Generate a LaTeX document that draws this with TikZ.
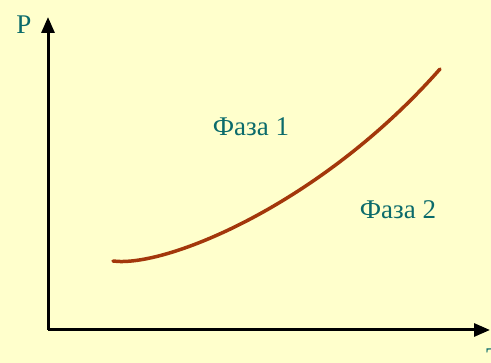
\documentclass[tikz,border=0pt]{standalone}
\usepackage{fontspec}
\setmainfont{Liberation Serif}
\usetikzlibrary{arrows.meta}
\definecolor{bgyellow}{HTML}{FFFFCC}
\definecolor{tealtext}{HTML}{0B6B6B}
\definecolor{curvebrown}{HTML}{A3370B}
\tikzset{
  axis/.style={line width=3pt, black, -{Triangle[length=16pt,width=13pt]}},
  lbl/.style={text=tealtext, font=\fontsize{27}{30}\selectfont, inner sep=0pt},
  phase/.style={line width=3.5pt, curvebrown, line cap=round}
}
\begin{document}
\begin{tikzpicture}[x=1pt,y=-1pt]
\fill[bgyellow] (0,0) rectangle (491,363);
\useasboundingbox (0,0) rectangle (491,363);
\coordinate (o) at (48,330);
\coordinate (ytop) at (48,17);
\coordinate (xend) at (490,330);
\draw[axis] (o) -- (ytop);
\draw[axis] (o) -- (xend);
\node[lbl] (p) at (24,25) {P};
\node[lbl, anchor=north west] (t) at (486,349) {T};
\coordinate (c0) at (113,261);
\coordinate (c1) at (440,69);
\draw[phase] (c0) .. controls (165,268) and (320,205) .. (c1);
\node[lbl] (f1) at (251,127) {Фаза 1};
\node[lbl] (f2) at (398,210) {Фаза 2};
\end{tikzpicture}
\end{document}
